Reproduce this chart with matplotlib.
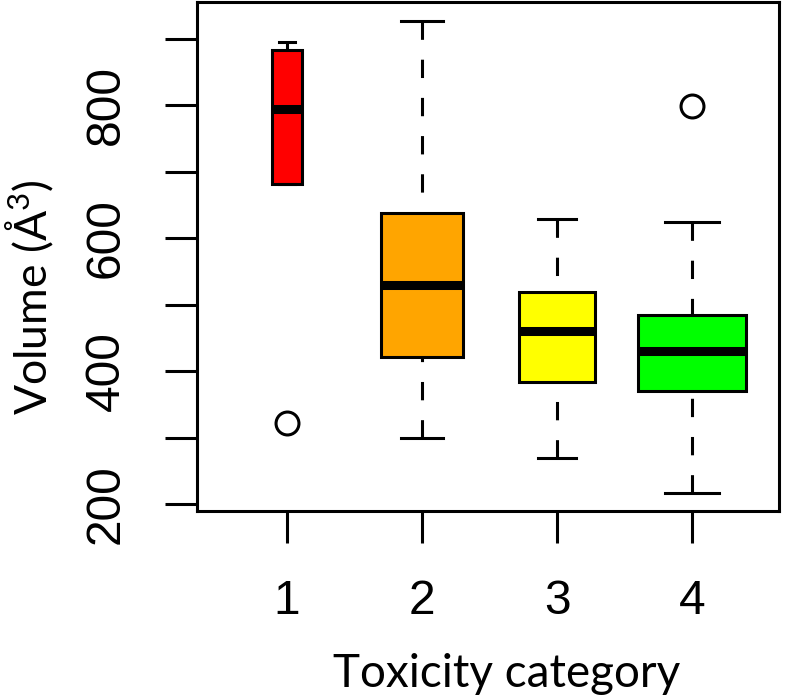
import numpy as np, matplotlib
matplotlib.use("Agg")
import matplotlib.pyplot as plt

plt.rcParams.update({
    "font.family":"Liberation Sans","mathtext.fontset":"custom",
    "mathtext.rm":"Lato","mathtext.default":"regular",
})

# box statistics (volume, Å^3)
categories=["1","2","3","4"]
medians=[794,530,460,430]
q1=[681,421,384,371]
q3=[883,638,519,484]
whis_lo=[681,299,269,217]
whis_hi=[895,927,629,624]
outliers=[[323],[],[],[798]]
box_widths=[0.227,0.612,0.558,0.802]
colors=["#ff0000","#ffa500","#ffff00","#00ff00"]

LW=2.2
fig=plt.figure(figsize=(7.87,6.98),dpi=100)
ax=fig.add_axes([197/787,1-511/698,(779-197)/787,(511-2)/698])

stats=[dict(med=m,q1=a,q3=b,whislo=lo,whishi=hi,fliers=f)
       for m,a,b,lo,hi,f in zip(medians,q1,q3,whis_lo,whis_hi,outliers)]
pos=np.arange(1,len(categories)+1)
bp=ax.bxp(stats,positions=pos,widths=box_widths,capwidths=[w/2 for w in box_widths],
    patch_artist=True,
    boxprops=dict(linewidth=LW,edgecolor="black"),
    medianprops=dict(color="black",linewidth=6.5,solid_capstyle="butt"),
    whiskerprops=dict(color="black",linewidth=LW,linestyle=(0,(6,6.5))),
    capprops=dict(color="black",linewidth=LW),
    flierprops=dict(marker="o",markerfacecolor="none",markeredgecolor="black",
        markersize=16.5,markeredgewidth=LW))
for patch,col in zip(bp["boxes"],colors):
    patch.set_facecolor(col)
# R draws whiskers from the cap toward the box, so the dash starts at the cap
for w in bp["whiskers"]:
    x,y=w.get_data()
    w.set_data(x[::-1],y[::-1])

ax.set_xlim(0.333,4.644)
ax.set_ylim(190,955)
ax.set_xticks(pos)
ax.set_xticklabels(categories)
ax.set_yticks([200,400,600,800])
ax.set_yticks([300,500,700,900],minor=True)
ax.set_yticklabels(["200","400","600","800"],rotation=90,va="center")
for s in ax.spines.values(): s.set_linewidth(LW)
ax.tick_params(axis="both",which="both",length=23,width=LW,labelsize=34.5)
ax.tick_params(axis="x",pad=26)
ax.tick_params(axis="y",pad=26)

fig.text(507/787,1-687/698,"Toxicity category",family="Lato",fontsize=33,
    ha="center",va="baseline")
fig.text(47/787,1-297/698,"Volume (Å$^{3}$)",family="Lato",fontsize=32,
    rotation=90,rotation_mode="anchor",ha="center",va="baseline")

fig.savefig("out.png",dpi=100,facecolor="white")
